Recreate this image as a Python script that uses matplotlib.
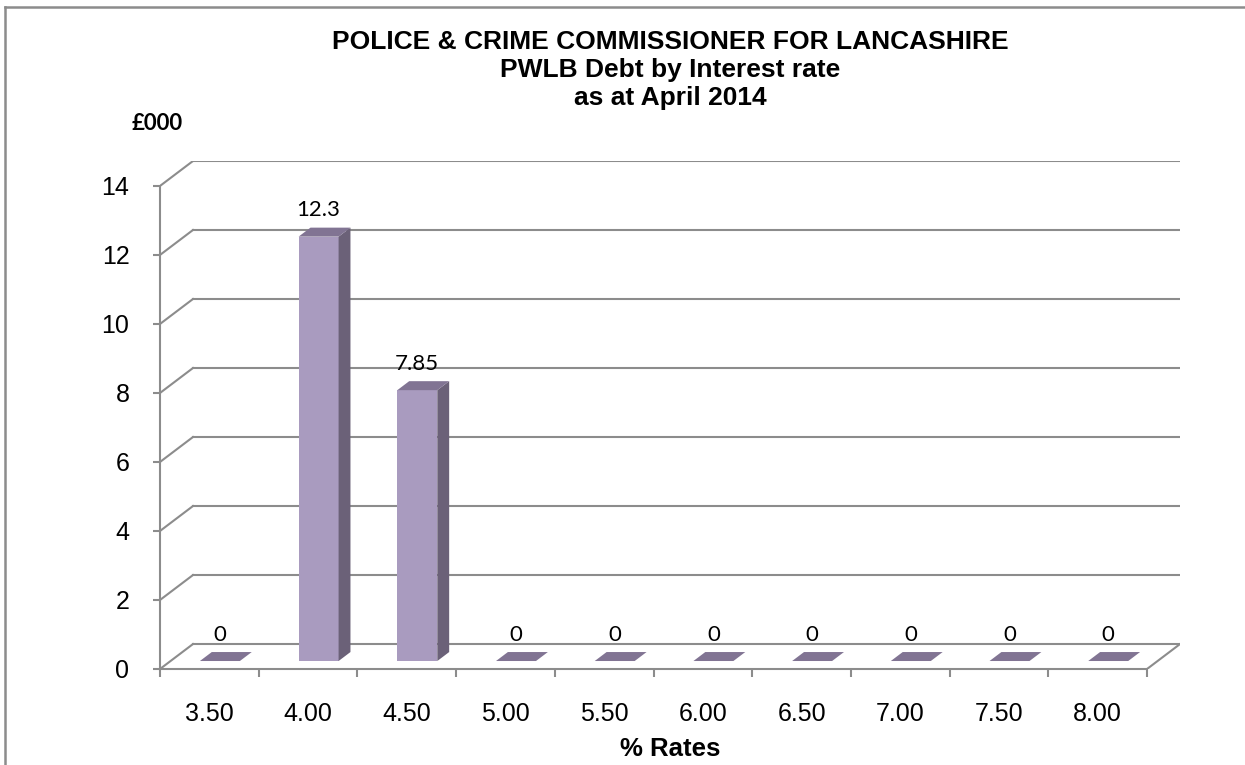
import matplotlib

matplotlib.use("Agg")
import matplotlib.pyplot as plt
from matplotlib.lines import Line2D

# data
rates = ["3.50", "4.00", "4.50", "5.00", "5.50", "6.00", "6.50", "7.00", "7.50", "8.00"]
debt = [0, 12.3, 7.85, 0, 0, 0, 0, 0, 0, 0]
value_labels = ["0", "12.3", "7.85", "0", "0", "0", "0", "0", "0", "0"]
yticks = [0, 2, 4, 6, 8, 10, 12, 14]

# pseudo-3d depth (in data units) and bar placement inside the depth
DX, DY = 0.334, 0.723
F0, F1 = 0.32, 0.68
BAR_W = 0.405

GRID = "#8c8c8c"
FRONT = "#a99bbf"
SIDE = "#6b6178"
TOP = "#817493"

fig = plt.figure(figsize=(12.45, 7.65), dpi=100)
ax = fig.add_axes([160 / 1245, 96 / 765, 1020 / 1245, 508 / 765])
ax.set_xlim(0, len(rates) + DX)
ax.set_ylim(0, yticks[-1] + DY)
ax.patch.set_visible(False)

# walls and floor
for v in yticks:
    ax.plot([DX, len(rates) + DX], [v + DY, v + DY], color=GRID, lw=1.5, zorder=1)
    ax.plot([0, DX], [v, v + DY], color=GRID, lw=1.5, zorder=1)
ax.plot([len(rates), len(rates) + DX], [0, DY], color=GRID, lw=1.5, zorder=1)

for s in ["top", "right"]:
    ax.spines[s].set_visible(False)
for s in ["left", "bottom"]:
    ax.spines[s].set_color(GRID)
    ax.spines[s].set_linewidth(1.5)
ax.spines["left"].set_bounds(0, yticks[-1])
ax.spines["bottom"].set_bounds(0, len(rates))

ax.set_yticks(yticks)
ax.set_yticklabels([str(v) for v in yticks], fontsize=18, family="Liberation Sans")
ax.tick_params(axis="y", length=5, width=1.5, color=GRID, pad=17)
ax.set_xticks(range(len(rates) + 1))
ax.set_xticklabels([""] * (len(rates) + 1))
ax.tick_params(axis="x", which="major", length=6, width=1.5, color=GRID)
ax.set_xticks([i + 0.5 for i in range(len(rates))], minor=True)
ax.set_xticklabels(rates, minor=True, fontsize=18, family="Liberation Sans")
ax.tick_params(axis="x", which="minor", length=0, pad=24)

# bars: front face, side face, top face
centers = [i + 0.5 + F0 * DX for i in range(len(rates))]
ax.bar(centers, debt, width=BAR_W, bottom=F0 * DY, color=FRONT, zorder=3)
ddx, ddy = (F1 - F0) * DX, (F1 - F0) * DY
for xc, v, lab in zip(centers, debt, value_labels):
    xl, xr = xc - BAR_W / 2, xc + BAR_W / 2
    yb, yt = F0 * DY, v + F0 * DY
    if v > 0:
        ax.fill([xr, xr, xr + ddx, xr + ddx], [yb, yt, yt + ddy, yb + ddy],
                color=SIDE, lw=0, zorder=3)
    ax.fill([xl, xr, xr + ddx, xl + ddx], [yt, yt, yt + ddy, yt + ddy],
            color=TOP, lw=0, zorder=3)
    ax.annotate(lab, (xc, yt + ddy), xytext=(0, 12.5), textcoords="offset points",
                ha="center", va="center", fontsize=16, family="Lato", zorder=4)

ax.set_xlabel("% Rates", fontsize=18.5, fontweight="bold", family="Liberation Sans",
              labelpad=8)

fig.text(670 / 1245, 1 - 30 / 765,
         "POLICE & CRIME COMMISSIONER FOR LANCASHIRE\nPWLB Debt by Interest rate\nas at April 2014",
         ha="center", va="top", fontsize=19, fontweight="bold", family="Liberation Sans",
         linespacing=1.2)
fig.text(157 / 1245, 1 - 124 / 765, "£000", ha="center", va="center",
         fontsize=16, fontweight="bold", family="Lato")

# chart border (top and left edges visible)
fig.add_artist(Line2D([5 / 1245, 5 / 1245], [0, 1 - 7 / 765], transform=fig.transFigure,
                      color="#8c8c8c", lw=1.8))
fig.add_artist(Line2D([5 / 1245, 1], [1 - 7 / 765, 1 - 7 / 765], transform=fig.transFigure,
                      color="#8c8c8c", lw=1.8))

fig.savefig("out.png", dpi=100)
